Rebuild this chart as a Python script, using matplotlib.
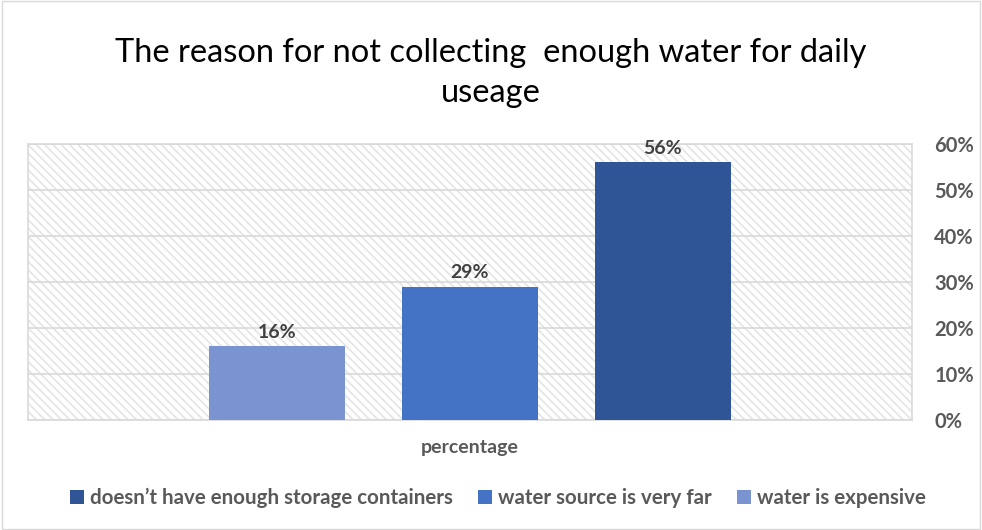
import matplotlib.pyplot as plt
import matplotlib.patches as mpatches
from matplotlib.ticker import FuncFormatter

# Reasons and their share of respondents
reasons = ["doesn\u2019t have enough storage containers",
           "water source is very far",
           "water is expensive"]
shares = [0.56, 0.29, 0.16]
colors = ["#2F5597", "#4472C4", "#7A94D1"]

plt.rcParams['font.family'] = ['Lato', 'DejaVu Sans']
plt.rcParams['hatch.color'] = '#E4E4E4'
plt.rcParams['hatch.linewidth'] = 1.2

fig = plt.figure(figsize=(9.82, 5.30), dpi=100)
ax = fig.add_axes([0.0285, 0.2075, 0.9002, 0.5208])

# Hatched plot-area background
ax.add_patch(mpatches.Rectangle((0, 0), 1, 1, transform=ax.transAxes,
                                facecolor='white', edgecolor='#E4E4E4',
                                hatch='\\' * 4, linewidth=0, zorder=0))

# Bars drawn in reversed order (series 1 on the right)
width = 0.705
positions = [2, 1, 0]
for pos, val, col, lab in zip(positions, shares, colors, reasons):
    ax.bar(pos, val, width, color=col, label=lab, zorder=3)
    ax.text(pos, val + 0.012, f"{val:.0%}", ha='center', va='bottom',
            fontsize=14, fontweight='bold', color='#404040', zorder=4)

ax.set_xlim(-1.29, 3.29)
ax.set_ylim(0, 0.6)
ax.set_yticks([i / 10 for i in range(7)])
ax.yaxis.set_major_formatter(FuncFormatter(lambda v, _: f"{v:.0%}"))
ax.yaxis.tick_right()
ax.tick_params(axis='y', length=0, pad=16, labelsize=14.5, labelcolor='#595959')
for lbl in ax.get_yticklabels():
    lbl.set_fontweight('bold')
ax.set_xticks([])
ax.grid(axis='y', color='#D9D9D9', linewidth=1.2, zorder=1)
ax.set_axisbelow(True)
for spine in ax.spines.values():
    spine.set_color('#D9D9D9')
    spine.set_linewidth(1.2)

ax.set_xlabel("percentage", fontsize=14, fontweight='bold', color='#595959', labelpad=14)

fig.text(0.5, 0.862, "The reason for not collecting  enough water for daily\nuseage",
         ha='center', va='center', fontsize=23.5, color='black', linespacing=1.4)

handles, labels = ax.get_legend_handles_labels()
fig.legend(handles, labels, loc='center', bbox_to_anchor=(0.507, 0.06), ncol=3,
           frameon=False, handlelength=0.7, handleheight=0.7,
           handletextpad=0.3, columnspacing=1.2,
           prop={'weight': 'bold', 'size': 14.8})
for t in fig.legends[0].get_texts():
    t.set_color('#595959')

# Outer chart border
fig.add_artist(mpatches.Rectangle((0.002, 0.002), 0.996, 0.996, transform=fig.transFigure,
                                  fill=False, edgecolor='#D9D9D9', linewidth=1))

fig.savefig("out.png", dpi=100)
